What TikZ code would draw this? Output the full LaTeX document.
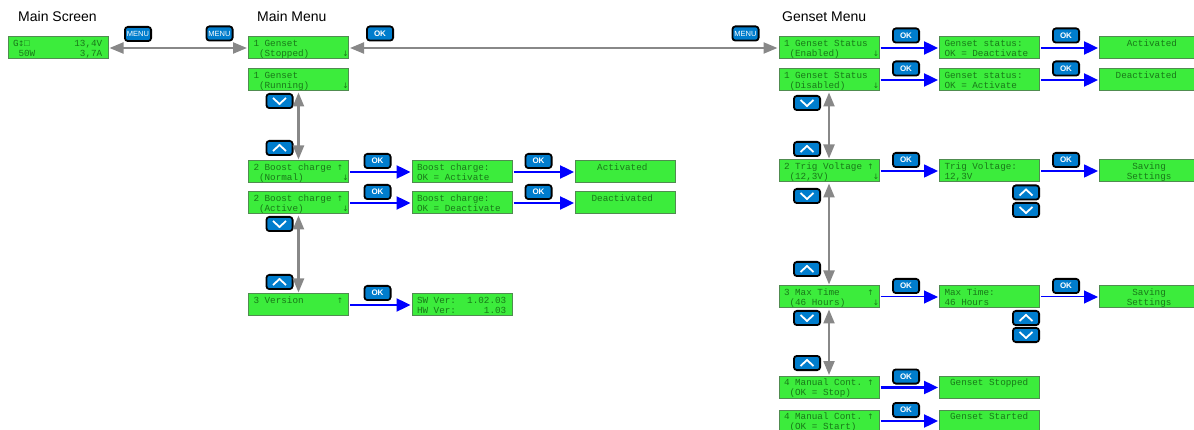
\documentclass[tikz,border=0pt]{standalone}
\usepackage{fontspec}
\setmainfont{Liberation Sans}
\newfontfamily\lcdfont{Liberation Mono}
\newfontfamily\arrfont{DejaVu Sans}
\usetikzlibrary{arrows.meta}
\definecolor{lcdfill}{RGB}{60,236,60}
\definecolor{lcdline}{RGB}{80,140,80}
\definecolor{lcdtext}{RGB}{25,120,25}
\definecolor{btnblue}{RGB}{0,125,205}
\definecolor{linkgray}{RGB}{136,136,136}
\def\lcdsp{\hspace*{5.58pt}}
\newcommand\aup{\makebox[5.58pt]{\arrfont\fontsize{7.5}{10}\selectfont ↑}}
\newcommand\adn{\makebox[5.58pt]{\arrfont\fontsize{7.5}{10}\selectfont ↓}}
\newcommand\aud{\makebox[5.58pt]{\arrfont\fontsize{7.5}{10}\selectfont ↕}}
\tikzset{
  x=1pt,y=-1pt,
  lcd/.style={draw=lcdline,fill=lcdfill,line width=1pt,minimum width=100pt,minimum height=22pt,
    inner sep=0pt,outer sep=0pt,text width=90pt,align=left,text=lcdtext,
    font=\lcdfont\fontsize{9.3}{10}\selectfont,
    execute at begin node={\let~\lcdsp\rule{0pt}{9.3pt}},
    execute at end node={\rule[-2.5pt]{0pt}{2.5pt}}},
  btn/.style={draw=black,fill=btnblue,line width=1.8pt,rounded corners=3pt,minimum width=26.2pt,minimum height=14.2pt,
    inner sep=0pt,outer sep=0pt,text=white},
  okbtn/.style={btn,font=\bfseries\fontsize{8}{8}\selectfont},
  menubtn/.style={btn,font=\fontsize{7.5}{8}\selectfont},
  upbtn/.style={btn,path picture={\draw[white,line width=1.8pt,sharp corners]
     ([xshift=-6.5pt,yshift=-3pt]path picture bounding box.center) -- ([yshift=3pt]path picture bounding box.center) -- ([xshift=6.5pt,yshift=-3pt]path picture bounding box.center);}},
  downbtn/.style={btn,path picture={\draw[white,line width=1.8pt,sharp corners]
     ([xshift=-6.5pt,yshift=3pt]path picture bounding box.center) -- ([yshift=-3pt]path picture bounding box.center) -- ([xshift=6.5pt,yshift=3pt]path picture bounding box.center);}},
  title/.style={font=\fontsize{14}{16}\selectfont,anchor=base west,inner sep=0pt},
  graylink/.style={draw=linkgray,line width=2.2pt,{Triangle[length=14pt,width=11pt]}-{Triangle[length=14pt,width=11pt]},shorten <=1.5pt,shorten >=1.5pt},
  bluelink/.style={draw=blue,line width=2.4pt,-{Triangle[length=14pt,width=13pt]},shorten <=1.5pt,shorten >=1.5pt},
  bluemid/.style={bluelink,line width=1.6pt},
  bluethin/.style={bluelink,line width=1pt},
}
\begin{document}
\begin{tikzpicture}
\useasboundingbox (0,0) rectangle (1194,430);
\node[title] (t1) at (18,22) {Main Screen};
\node[title] (t2) at (257,22) {Main Menu};
\node[title] (t3) at (782,22) {Genset Menu};

\node[lcd] (scr) at (58,48) {G\aud □~~~~~~~~13,4V\\~50W~~~~~~~~3,7A};

\node[lcd] (m1a) at (298.5,48) {1~Genset\\~(Stopped)~~~~~~\adn};
\node[lcd] (m1b) at (298.5,80) {1~Genset\\~(Running)~~~~~~\adn};
\node[lcd] (m2a) at (298.5,172) {2~Boost~charge~\aup\\~(Normal)~~~~~~~\adn};
\node[lcd] (m2b) at (298.5,203) {2~Boost~charge~\aup\\~(Active)~~~~~~~\adn};
\node[lcd] (m3) at (298.5,305) {3~Version~~~~~~\aup\\~};

\node[lcd] (b1) at (462,172) {Boost~charge:\\OK~=~Activate};
\node[lcd] (b2) at (462,203) {Boost~charge:\\OK~=~Deactivate};
\node[lcd] (v1) at (462,305) {SW~Ver:~~1.02.03\\HW~Ver:~~~~~1.03};
\node[lcd] (c1) at (625.5,172) {~~~Activated\\~};
\node[lcd] (c2) at (625.5,203) {~~Deactivated\\~};

\node[lcd] (g1a) at (829,48) {1~Genset~Status\\~(Enabled)~~~~~~\adn};
\node[lcd] (g1b) at (829,80) {1~Genset~Status\\~(Disabled)~~~~~\adn};
\node[lcd] (g2) at (829,171) {2~Trig~Voltage~\aup\\~(12,3V)~~~~~~~~\adn};
\node[lcd] (g3) at (829,297) {3~Max~Time~~~~~\aup\\~(46~Hours)~~~~~\adn};
\node[lcd] (g4a) at (829,387.5) {4~Manual~Cont.~\aup\\~(OK~=~Stop)};
\node[lcd] (g4b) at (829,421) {4~Manual~Cont.~\aup\\~(OK~=~Start)};

\node[lcd] (s1a) at (989.5,48) {Genset~status:\\OK~=~Deactivate};
\node[lcd] (s1b) at (989.5,80) {Genset~status:\\OK~=~Activate};
\node[lcd] (s2) at (989.5,171) {Trig~Voltage:\\12,3V};
\node[lcd] (s3) at (989.5,297) {Max~Time:\\46~Hours};
\node[lcd] (s4a) at (989.5,387.5) {~Genset~Stopped\\~};
\node[lcd] (s4b) at (989.5,421) {~Genset~Started\\~};

\node[lcd] (r1a) at (1149.5,48) {~~~~Activated\\~};
\node[lcd] (r1b) at (1149.5,80) {~~Deactivated\\~};
\node[lcd] (r2) at (1149.5,171) {~~~~~Saving\\~~~~Settings};
\node[lcd] (r3) at (1149.5,297) {~~~~~Saving\\~~~~Settings};

% menu buttons
\node[menubtn] (k1) at (138,34) {MENU};
\node[menubtn] (k2) at (219.5,33.5) {MENU};
\node[okbtn] (k3) at (380,33.5) {OK};
\node[menubtn] (k4) at (745.5,33.5) {MENU};
% main menu
\node[downbtn] (d1) at (279.5,101) {};
\node[upbtn] (u1) at (279.5,148) {};
\node[downbtn] (d2) at (279.5,224) {};
\node[upbtn] (u2) at (279.5,282) {};
\node[okbtn] (o1) at (377.5,161) {OK};
\node[okbtn] (o2) at (377.5,192) {OK};
\node[okbtn] (o3) at (377.5,293) {OK};
\node[okbtn] (o4) at (538.5,161) {OK};
\node[okbtn] (o5) at (538.5,192) {OK};
% genset menu
\node[okbtn] (p1) at (906,35.5) {OK};
\node[okbtn] (p2) at (906,68.5) {OK};
\node[okbtn] (p3) at (906,160) {OK};
\node[okbtn] (p4) at (906,286) {OK};
\node[okbtn] (p5) at (906,376.5) {OK};
\node[okbtn] (p6) at (906,410) {OK};
\node[okbtn] (q1) at (1066,35.5) {OK};
\node[okbtn] (q2) at (1066,68.5) {OK};
\node[okbtn] (q3) at (1066,160) {OK};
\node[okbtn] (q4) at (1066,286) {OK};
\node[downbtn] (d3) at (807,103) {};
\node[upbtn] (u3) at (807,149) {};
\node[downbtn] (d4) at (807,196) {};
\node[upbtn] (u4) at (807,269) {};
\node[downbtn] (d5) at (807,318) {};
\node[upbtn] (u5) at (807,363) {};
\node[upbtn] (u6) at (1026,192.5) {};
\node[downbtn] (d6) at (1026,210) {};
\node[upbtn] (u7) at (1026,318) {};
\node[downbtn] (d7) at (1026,335) {};

% gray links
\draw[graylink] (scr.east) -- (m1a.west);
\draw[graylink] (m1a.east) -- (g1a.west);
\draw[graylink] (m1b.south) -- (m2a.north);
\draw[graylink] (m2b.south) -- (m3.north);
\draw[graylink] (g1b.south) -- (g2.north);
\draw[graylink] (g2.south) -- (g3.north);
\draw[graylink] (g3.south) -- (g4a.north);
% blue links
\draw[bluelink] (m2a.east) -- (b1.west);
\draw[bluelink] (m2b.east) -- (b2.west);
\draw[bluelink] (m3.east) -- (v1.west);
\draw[bluelink] (b1.east) -- (c1.west);
\draw[bluelink] (b2.east) -- (c2.west);
\draw[bluelink] (g1a.east) -- (s1a.west);
\draw[bluelink] (g1b.east) -- (s1b.west);
\draw[bluemid] (g2.east) -- (s2.west);
\draw[bluethin] (g3.east) -- (s3.west);
\draw[bluelink] (g4a.east) -- (s4a.west);
\draw[bluelink] (g4b.east) -- (s4b.west);
\draw[bluelink] (s1a.east) -- (r1a.west);
\draw[bluelink] (s1b.east) -- (r1b.west);
\draw[bluemid] (s2.east) -- (r2.west);
\draw[bluethin] (s3.east) -- (r3.west);
\end{tikzpicture}
\end{document}
